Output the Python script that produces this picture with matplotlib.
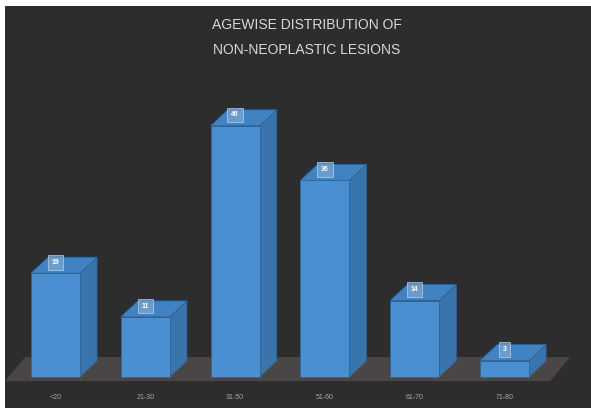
import matplotlib
matplotlib.use("Agg")
import matplotlib.pyplot as plt
from matplotlib.patches import Polygon, Rectangle

categories = ["<20", "21-30", "31-50", "51-60", "61-70", "71-80"]
values = [19, 11, 46, 36, 14, 3]
title_lines = ["AGEWISE DISTRIBUTION OF", "NON-NEOPLASTIC LESIONS"]

plt.rcParams['font.family'] = ['Liberation Sans', 'DejaVu Sans']

fig = plt.figure(figsize=(5.91, 4.08), dpi=100)
fig.patch.set_facecolor("white")
# dark panel
bg = Rectangle((5/591, 0), 1, (408-6)/408, transform=fig.transFigure,
               facecolor="#2d2d2d", edgecolor="none", zorder=-10)
fig.patches.append(bg)

ax = fig.add_axes([0, 0, 1, 1])
ax.set_zorder(1)
ax.set_facecolor("none")
ax.patch.set_alpha(0)
ax.set_xlim(-0.618, 5.963)
ax.set_ylim(-5.68, 69.05)
ax.axis("off")

width = 0.546
dx, dy = 0.19, 2.93
front_c = "#4b8fd3"
side_c = "#3a74ad"
top_c = "#4182c2"
edge_c = "#2f6496"

# floor
floor = Polygon([(-0.56, -0.75), (5.51, -0.75), (5.73, 3.66), (-0.34, 3.66)],
                closed=True, facecolor="#4a4646", edgecolor="none", zorder=1)
ax.add_patch(floor)

xs = list(range(len(values)))
ax.bar(xs, values, width=width, color=front_c, edgecolor=edge_c, linewidth=0.6, zorder=3)
for x, v, c in zip(xs, values, categories):
    l, r = x - width/2, x + width/2
    ax.add_patch(Polygon([(r, 0), (r + dx, dy), (r + dx, v + dy), (r, v)], closed=True,
                         facecolor=side_c, edgecolor=edge_c, linewidth=0.6, zorder=2))
    ax.add_patch(Polygon([(l, v), (r, v), (r + dx, v + dy), (l + dx, v + dy)], closed=True,
                         facecolor=top_c, edgecolor=edge_c, linewidth=0.6, zorder=2))
    ax.text(x, v + 2.0, str(v), ha="center", va="center", fontsize=5, color="white",
            fontweight="bold", zorder=5,
            bbox=dict(boxstyle="square,pad=0.55", facecolor="#7aa6cf", edgecolor="#c8d8e8",
                      linewidth=0.6, alpha=0.75))
    ax.text(x, -3.7, c, ha="center", va="center", fontsize=5,
            color="#a8a8a8", zorder=5)

fig.text(307/591, 1 - 25/408, title_lines[0], ha="center", va="center", fontsize=10,
         color="#d8d8d8", zorder=5)
fig.text(307/591, 1 - 50/408, title_lines[1], ha="center", va="center", fontsize=10,
         color="#d8d8d8", zorder=5)

fig.savefig("out.png", dpi=100, facecolor=fig.get_facecolor())
